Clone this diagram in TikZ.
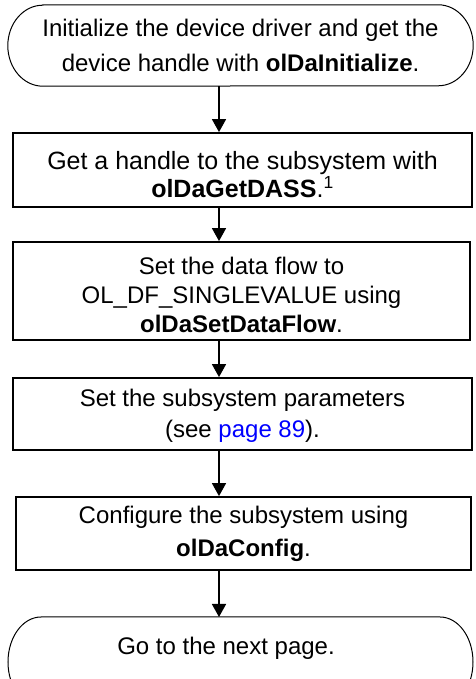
\documentclass[tikz,border=0pt]{standalone}
\usepackage{fontspec}
\setmainfont{Liberation Sans}
\usetikzlibrary{arrows.meta}
\definecolor{linkblue}{RGB}{0,0,255}
\begin{document}
\begin{tikzpicture}[x=1pt,y=1pt,
  stepbox/.style={draw, line width=1.8pt, rectangle, inner sep=0pt, align=center},
  txt/.style={font=\fontsize{24}{#1}\selectfont},
  bigtxt/.style={font=\fontsize{25}{#1}\selectfont},
  termline/.style={line width=1pt},
  arr/.style={line width=1.6pt, -{Triangle[width=14pt,length=13pt]}}]
\useasboundingbox (0,0) rectangle (475,679);
\clip (0,0) rectangle (475,679);
\fill[white] (0,0) rectangle (475,679);
\coordinate (ax) at (219,0);
% top terminator
\node[inner sep=0pt, align=center, txt=35, minimum width=465pt, minimum height=81pt] (t1) at (240.5,633.5)
  {Initialize the device driver and get the\\device handle with \textbf{olDaInitialize}.};
\draw[termline] ([xshift=35pt]t1.north west) -- ([xshift=-35pt]t1.north east)
  arc[start angle=90,end angle=-90,x radius=35pt,y radius=40.5pt]
  -- ([xshift=35pt]t1.south west)
  arc[start angle=270,end angle=90,x radius=35pt,y radius=40.5pt] -- cycle;
% boxes
\node[stepbox, bigtxt=28, minimum width=459pt, minimum height=74pt] (b2) at (242.5,509)
  {\rule{0pt}{28pt}Get a handle to the subsystem with\\\textbf{olDaGetDASS}.\textsuperscript{1}};
\node[stepbox, txt=29, minimum width=457pt, minimum height=98pt] (b3) at (241.5,388)
  {\rule{0pt}{26pt}Set the data flow to\\OL\_DF\_SINGLEVALUE using\\\textbf{olDaSetDataFlow}.};
\node[stepbox, txt=31, minimum width=459pt, minimum height=72pt] (b4) at (242.5,265)
  {\rule{0pt}{21pt}Set the subsystem parameters\\(see \textcolor{linkblue}{page 89}).};
\node[stepbox, txt=33, minimum width=455pt, minimum height=73pt] (b5) at (243.5,145.5)
  {Configure the subsystem using\\\textbf{olDaConfig}.};
% bottom terminator
\node[inner sep=0pt, anchor=base, txt=29] (t2) at (226,24) {Go to the next page.};
\coordinate (t2top) at (219,62);
\draw[termline] (41,62) -- (440,62)
  arc[start angle=90,end angle=-90,x radius=33pt,y radius=45pt]
  -- (41,-28)
  arc[start angle=270,end angle=90,x radius=33pt,y radius=45pt] -- cycle;
% connectors
\draw[arr] (ax |- t1.south) -- (ax |- b2.north);
\draw[arr] (ax |- b2.south) -- (ax |- b3.north);
\draw[arr] (ax |- b3.south) -- (ax |- b4.north);
\draw[arr] (ax |- b4.south) -- (ax |- b5.north);
\draw[arr] (ax |- b5.south) -- (t2top);
\end{tikzpicture}
\end{document}
